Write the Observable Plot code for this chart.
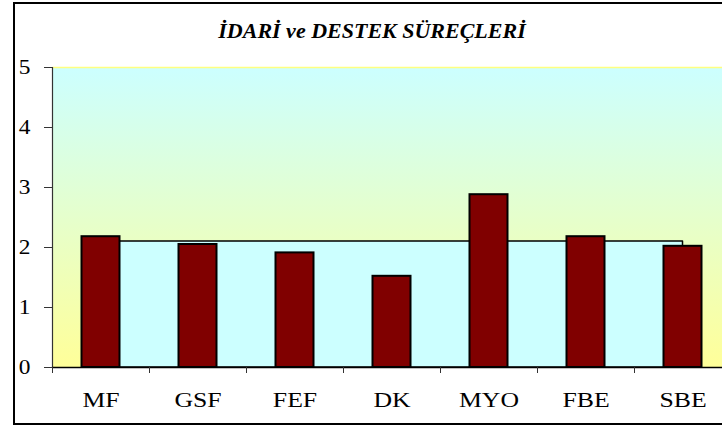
<!DOCTYPE html>
<html><head><meta charset="utf-8">
<script src="https://cdn.jsdelivr.net/npm/d3@7"></script>
<script src="https://cdn.jsdelivr.net/npm/@observablehq/plot@0.6"></script>
<style>
html,body{margin:0;padding:0;background:#fff;overflow:hidden;}
#wrap{position:relative;width:722px;height:428px;overflow:hidden;}
#chart{position:absolute;left:0;top:0;}
#border{position:absolute;left:13px;top:2px;width:760px;height:423px;border:2px solid #000;box-sizing:border-box;pointer-events:none;}
#title{position:absolute;left:13px;width:718px;top:20px;text-align:center;font:italic bold 20px 'Liberation Serif','Times New Roman',serif;line-height:22px;color:#000;transform:scaleX(1.1);transform-origin:359px 0;}
</style>
</head><body>
<div id="wrap"><div id="chart"></div><div id="border"></div><div id="title">İDARİ ve DESTEK SÜREÇLERİ</div></div>
<script>
const categories = ["MF", "GSF", "FEF", "DK", "MYO", "FBE", "SBE"];
const scores = [2.18, 2.05, 1.91, 1.52, 2.88, 2.18, 2.02];
const average = [2.1, 2.1, 2.1, 2.1, 2.1, 2.1, 2.1];
const yTicks = [0, 1, 2, 3, 4, 5];

const rows = categories.map((c, i) => ({cat: c, score: scores[i], avg: average[i]}));

const plot = Plot.plot({
  width: 731, height: 428,
  marginLeft: 52, marginRight: 0, marginTop: 67, marginBottom: 61,
  style: {fontFamily: "'Liberation Serif','Times New Roman',serif", color: "#000", background: "transparent", maxWidth: "none", overflow: "visible"},
  x: {domain: categories, padding: 0, label: null},
  y: {domain: [0, 5], label: null},
  marks: [
    Plot.frame({fill: "url(#bgGrad)", stroke: null}),
    Plot.ruleY([5], {stroke: "#ffff80", strokeWidth: 1.5}),
    Plot.areaY(rows, {x: "cat", y: "avg", fill: "#ccffff", stroke: "#000", strokeWidth: 1.5}),
    Plot.barY(rows, {x: "cat", y: "score", fill: "#800000", stroke: "#000", strokeWidth: 2, insetLeft: 29.5, insetRight: 29.5}),
    Plot.ruleX(categories.slice(0, 1), {dx: -48.5, y1: 0, y2: 5, stroke: "#333", strokeWidth: 1.2}),
    Plot.ruleY([0], {stroke: "#000", strokeWidth: 1.5}),
    Plot.axisY({ticks: yTicks, tickFormat: d => String(d), tickSize: 8, tickPadding: 14, fontSize: 20, label: null, stroke: "#333"}),
    Plot.axisX({tickSize: 6, tickFormat: () => "", dx: -48.5, label: null, stroke: "#333"}),
    Plot.axisX({tickSize: 0, tickPadding: 24, fontSize: 22, label: null})
  ]
});

const defs = document.createElementNS("http://www.w3.org/2000/svg", "defs");
defs.innerHTML = '<linearGradient id="bgGrad" x1="0" y1="0" x2="0" y2="1"><stop offset="0" stop-color="#ccffff"/><stop offset="1" stop-color="#ffff99"/></linearGradient>';
plot.insertBefore(defs, plot.firstChild);
// widen axis glyphs horizontally like the reference's stretched type
plot.querySelectorAll('g[aria-label="x-axis tick label"] text, g[aria-label="y-axis tick label"] text').forEach(t => {
  const tr = t.getAttribute("transform") || "";
  t.setAttribute("transform", tr + " scale(1.17,1)");
});
document.getElementById("chart").appendChild(plot);
</script>
</body></html>
